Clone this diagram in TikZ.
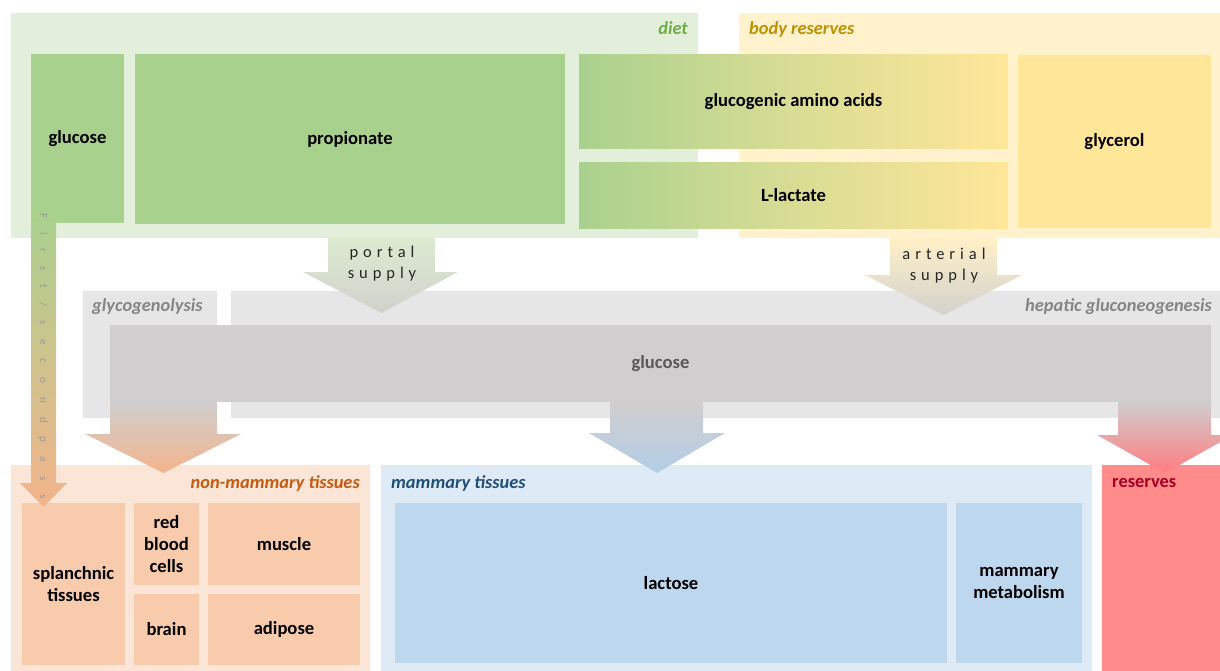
\documentclass[tikz,border=0pt]{standalone}
\usepackage{fontspec}
\setmainfont{Carlito}
\definecolor{dietbg}{HTML}{E2EFDA}
\definecolor{dietbox}{HTML}{A9D18E}
\definecolor{resbg}{HTML}{FFF2CC}
\definecolor{resbox}{HTML}{FFE699}
\definecolor{dietlbl}{HTML}{70AD47}
\definecolor{reslbl}{HTML}{BF9000}
\definecolor{hepbg}{HTML}{E7E6E6}
\definecolor{hepbar}{HTML}{D0CECE}
\definecolor{heplbl}{HTML}{858585}
\definecolor{passlbl}{HTML}{9A9A9A}
\definecolor{nmbg}{HTML}{FBE5D6}
\definecolor{nmbox}{HTML}{F8CBAD}
\definecolor{nmlbl}{HTML}{C55A11}
\definecolor{mambg}{HTML}{DEEBF7}
\definecolor{mambox}{HTML}{BDD7EE}
\definecolor{mamlbl}{HTML}{1F4E79}
\definecolor{resv}{HTML}{FF8B8B}
\definecolor{resvlbl}{HTML}{A50021}
\definecolor{nmarrow}{HTML}{F4B48C}
\definecolor{mamarrow}{HTML}{B3CDE6}
\definecolor{resarrow}{HTML}{FF7C80}
\definecolor{portaltop}{HTML}{DCEBD0}
\definecolor{arttop}{HTML}{FFF0C8}
\definecolor{supplybot}{HTML}{D2D1CC}
\newcommand{\boxfont}{\fontsize{18.6}{22}\selectfont\bfseries}
\newcommand{\regfont}{\fontsize{18.4}{22}\selectfont\bfseries\itshape}
\newcommand{\resfont}{\fontsize{18.4}{22}\selectfont\bfseries}
\newcommand{\supfont}{\fontsize{16.5}{21}\selectfont\addfontfeature{LetterSpace=30}}
\newcommand{\passfont}{\fontsize{11}{13}\selectfont\addfontfeature{LetterSpace=128}}
\begin{document}
\begin{tikzpicture}[x=1pt,y=-1pt,
  area/.style={fill=#1, draw=none, inner sep=0pt, outer sep=0pt},
  boxn/.style={fill=#1, draw=none, inner sep=0pt, outer sep=0pt, align=center, font=\boxfont, text=black},
  reglabel/.style={inner sep=0pt, font=\regfont, text=#1},
  supply/.style={inner sep=0pt, align=center, font=\supfont, text=black!85}]
\useasboundingbox (0,0) rectangle (1220,671);
\begin{scope}
\clip (0,0) rectangle (1220,671);
% regions
\node[area=dietbg, minimum width=687, minimum height=225] (diet) at (354.5,125.5) {};
\node[area=resbg, minimum width=481, minimum height=225] (bodyres) at (979.5,125.5) {};
\node[area=hepbg, minimum width=134, minimum height=127] (glyco) at (150,354.5) {};
\node[area=hepbg, minimum width=989, minimum height=127] (hepatic) at (725.5,354.5) {};
\node[area=nmbg, minimum width=359, minimum height=206] (nonmam) at (190.5,568) {};
\node[area=mambg, minimum width=711, minimum height=206] (mam) at (736.5,568) {};
\node[area=resv, minimum width=118, minimum height=206] (reserves) at (1161,568) {};
% region labels
\node[reglabel=dietlbl, anchor=base east] (dietlab) at (688,35) {diet};
\node[reglabel=reslbl, anchor=base west] (reslab) at (749,35) {body reserves};
\node[reglabel=heplbl, anchor=base west] (glycolab) at (92,311) {glycogenolysis};
\node[reglabel=heplbl, anchor=base east] (heplab) at (1212,311) {hepatic gluconeogenesis};
\node[reglabel=nmlbl, anchor=base east] (nmlab) at (360,488) {non-mammary tissues};
\node[reglabel=mamlbl, anchor=base west] (mamlab) at (391,488) {mammary tissues};
\node[inner sep=0pt, font=\resfont, text=resvlbl, anchor=base west] (resvlab) at (1112,487) {reserves};
% source boxes
\node[boxn=dietbox, minimum width=93, minimum height=169] (glucose) at (77.5,138.5) {glucose};
\node[boxn=dietbox, minimum width=430, minimum height=170] (propionate) at (350,139) {propionate};
\shade[left color=dietbox, right color=resbox, middle color=dietbox!45!resbox] (579,55) rectangle (1008,149);
\node[inner sep=0pt, font=\boxfont] (gaa) at (793.5,102) {glucogenic amino acids};
\shade[left color=dietbox, right color=resbox, middle color=dietbox!45!resbox] (579,163) rectangle (1008,228);
\node[inner sep=0pt, font=\boxfont] (lactate) at (793.5,195.5) {L-lactate};
\node[boxn=resbox, minimum width=193, minimum height=173] (glycerol) at (1114.5,141.5) {glycerol};
% target boxes
\node[boxn=nmbox, minimum width=103, minimum height=162] (splanchnic) at (73.5,584) {splanchnic\\tissues};
\node[boxn=nmbox, minimum width=65, minimum height=82] (rbc) at (166.5,544) {red\\blood\\cells};
\node[boxn=nmbox, minimum width=152, minimum height=82] (muscle) at (284,544) {muscle};
\node[boxn=nmbox, minimum width=65, minimum height=71] (brain) at (166.5,629.5) {brain};
\node[boxn=nmbox, minimum width=152, minimum height=71] (adipose) at (284,629.5) {adipose};
\node[boxn=mambox, minimum width=552, minimum height=160] (lactose) at (671,583) {lactose};
\node[boxn=mambox, minimum width=126, minimum height=160] (mammet) at (1019,583) {mammary\\metabolism};
% first / second pass arrow
\shade[top color=dietbox, bottom color=nmarrow] (31,212) -- (56,212) -- (56,483) -- (67,483) -- (43.5,507) -- (20,483) -- (31,483) -- cycle;
\node[inner sep=0pt, rotate=-90, font=\passfont, text=passlbl] (pass) at (43,356) {First/secondpass};
% supply arrows
\shade[top color=portaltop, bottom color=supplybot] (328,238) -- (435,238) -- (435,272) -- (458,272) -- (381.5,313) -- (303,272) -- (328,272) -- cycle;
\node[supply] (portal) at (382,264) {portal\\supply};
\shade[top color=arttop, bottom color=supplybot] (890,238) -- (997,238) -- (997,275) -- (1022,275) -- (943.5,315) -- (865,275) -- (890,275) -- cycle;
\node[supply] (arterial) at (944,266) {arterial\\supply};
% glucose bar and outgoing arrows
\node[area=hepbar, minimum width=1101, minimum height=77, font=\boxfont, text=black!65] (glucosebar) at (660.5,363.5) {glucose};
\shade[top color=hepbar, bottom color=nmarrow] (110,401.5) -- (217,401.5) -- (217,434) -- (241,434) -- (163.5,473) -- (85,434) -- (110,434) -- cycle;
\shade[top color=hepbar, bottom color=mamarrow] (610,401.5) -- (703,401.5) -- (703,433) -- (725,433) -- (657,473) -- (589,433) -- (610,433) -- cycle;
\shade[top color=hepbar, bottom color=resarrow] (1118,401.5) -- (1211,401.5) -- (1211,435) -- (1233,435) -- (1165,473) -- (1097,435) -- (1118,435) -- cycle;
\end{scope}
\end{tikzpicture}
\end{document}
